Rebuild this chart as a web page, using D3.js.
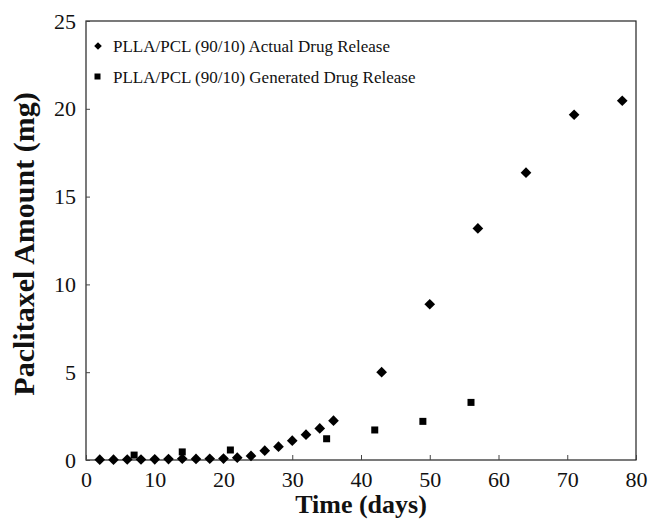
<!DOCTYPE html>
<html>
<head>
<meta charset="utf-8">
<script src="https://cdn.jsdelivr.net/npm/d3@7"></script>
<style>
  body { margin: 0; background: #fff; }
  svg text { font-family: "Times New Roman", "Liberation Serif", "DejaVu Serif", serif; fill: #111; }
</style>
</head>
<body>
<div id="chart"></div>
<script>
// Actual release (diamonds)
const actualDays = [2, 4, 6, 8, 10, 12, 14, 16, 18, 20, 22, 24, 26, 28, 30, 32, 34, 36, 43, 50, 57, 64, 71, 78];
const actualAmount = [0.02, 0.02, 0.03, 0.03, 0.04, 0.05, 0.07, 0.06, 0.07, 0.08, 0.13, 0.23, 0.53, 0.76, 1.1, 1.44, 1.8, 2.24, 5.0, 8.87, 13.19, 16.36, 19.66, 20.46];

// Generated release (squares)
const genDays = [7, 14, 21, 35, 42, 49, 56];
const genAmount = [0.28, 0.46, 0.57, 1.21, 1.71, 2.2, 3.28];

const xTicks = [0, 10, 20, 30, 40, 50, 60, 70, 80];
const yTicks = [0, 5, 10, 15, 20, 25];

const width = 648, height = 522;
const margin = { top: 21, right: 12, bottom: 62, left: 86 };
const w = width - margin.left - margin.right;
const h = height - margin.top - margin.bottom;

const svg = d3.select("#chart").append("svg")
    .attr("width", width)
    .attr("height", height);

const g = svg.append("g")
    .attr("transform", `translate(${margin.left},${margin.top})`);

const x = d3.scaleLinear().domain([0, 80]).range([0, w]);
const y = d3.scaleLinear().domain([0, 25]).range([h, 0]);

// frame
g.append("rect")
    .attr("width", w)
    .attr("height", h)
    .attr("fill", "none")
    .attr("stroke", "#222")
    .attr("stroke-width", 1.2);

// axes with inward ticks
const xAxis = g.append("g")
    .attr("transform", `translate(0,${h})`)
    .call(d3.axisBottom(x).tickValues(xTicks).tickSizeInner(-5).tickSizeOuter(0).tickPadding(11));
const yAxis = g.append("g")
    .call(d3.axisLeft(y).tickValues(yTicks).tickSizeInner(-4).tickSizeOuter(0).tickPadding(10));

[xAxis, yAxis].forEach(a => {
    a.attr("font-family", null);
    a.select(".domain").remove();
    a.selectAll(".tick line").attr("stroke", "#444");
    a.selectAll(".tick text")
        .attr("font-size", 22)
        .attr("fill", "#111");
});

// actual points (diamonds)
const diamond = d3.symbol().type(d3.symbolDiamond2).size(40);
g.selectAll(".actual")
    .data(actualDays.map((d, i) => [d, actualAmount[i]]))
    .join("path")
    .attr("class", "actual")
    .attr("d", diamond)
    .attr("transform", d => `translate(${x(d[0])},${y(d[1])}) scale(1.35)`)
    .attr("fill", "#000");

// generated points (squares)
g.selectAll(".gen")
    .data(genDays.map((d, i) => [d, genAmount[i]]))
    .join("rect")
    .attr("class", "gen")
    .attr("x", d => x(d[0]) - 3.5)
    .attr("y", d => y(d[1]) - 3.5)
    .attr("width", 7)
    .attr("height", 7)
    .attr("fill", "#000");

// legend
const legend = g.append("g").attr("transform", "translate(12,25)");
legend.append("path")
    .attr("d", d3.symbol().type(d3.symbolDiamond2).size(22)())
    .attr("transform", "translate(0,0) scale(1.3)")
    .attr("fill", "#000");
legend.append("text")
    .attr("x", 15).attr("y", 0).attr("dy", "0.35em")
    .attr("font-size", 17)
    .text("PLLA/PCL (90/10) Actual Drug Release");
legend.append("rect")
    .attr("x", -3.5).attr("y", 27.5).attr("width", 6).attr("height", 6)
    .attr("fill", "#000");
legend.append("text")
    .attr("x", 15).attr("y", 31).attr("dy", "0.35em")
    .attr("font-size", 17)
    .text("PLLA/PCL (90/10) Generated Drug Release");

// axis titles
svg.append("text")
    .attr("x", margin.left + w / 2)
    .attr("y", 513)
    .attr("text-anchor", "middle")
    .attr("font-size", 26)
    .attr("font-weight", "bold")
    .text("Time (days)");

svg.append("text")
    .attr("transform", "translate(34,244) rotate(-90)")
    .attr("text-anchor", "middle")
    .attr("font-size", 30)
    .attr("font-weight", "bold")
    .text("Paclitaxel Amount (mg)");
</script>
</body>
</html>
